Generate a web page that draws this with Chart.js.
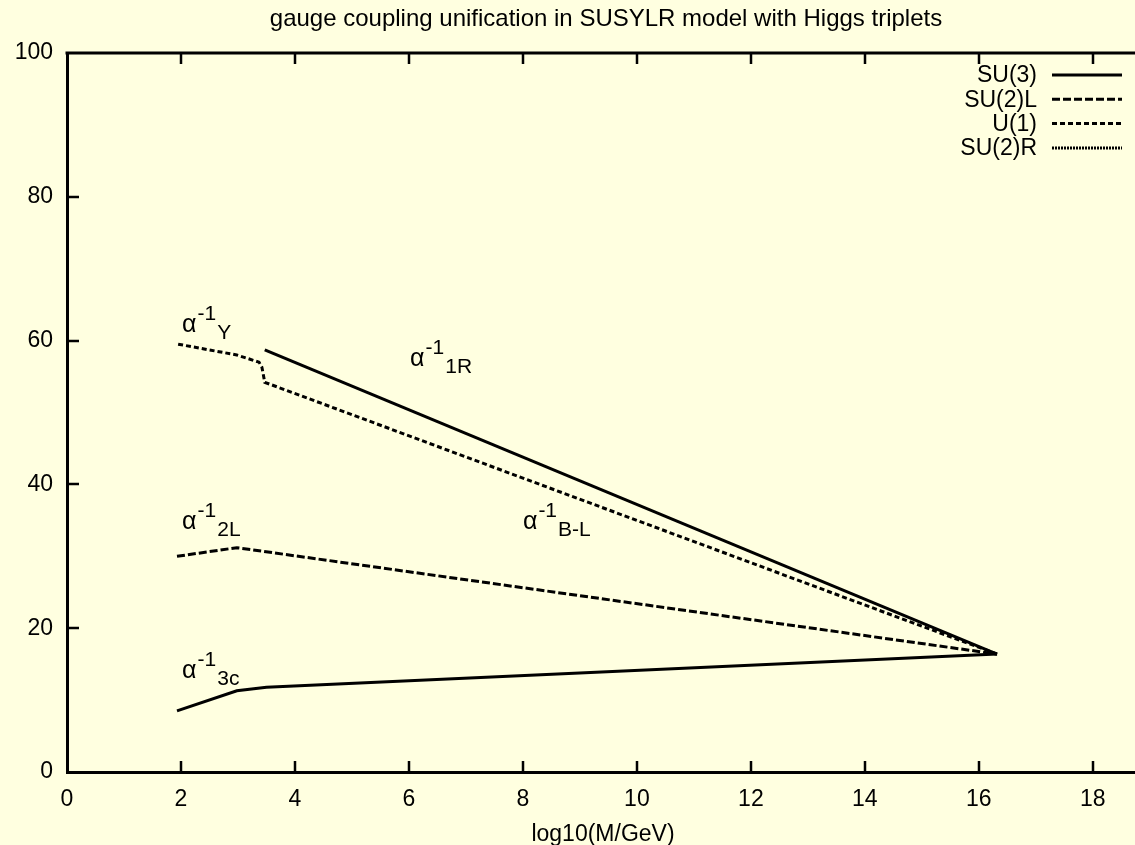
<!DOCTYPE html>
<html>
<head>
<meta charset="utf-8">
<script src="https://cdn.jsdelivr.net/npm/chart.js@4.4.0/dist/chart.umd.min.js"></script>
<style>
  html, body { margin: 0; padding: 0; background: #ffffe0; }
  canvas { display: block; }
</style>
</head>
<body>
<canvas id="myChart" width="1135" height="845"></canvas>
<script>
// datos
var su3X = [1.93, 2.98, 3.5, 16.32];
var su3Y = [8.5, 11.3, 11.8, 16.4];
var su2lX = [1.93, 2.98, 16.32];
var su2lY = [30.0, 31.2, 16.4];
var u1X = [1.95, 2.98, 3.37, 3.42, 3.47, 16.32];
var u1Y = [59.5, 58.0, 57.0, 56.3, 54.2, 16.4];
var su2rX = [3.47, 16.32];
var su2rY = [58.7, 16.4];

var xTicks = [0, 2, 4, 6, 8, 10, 12, 14, 16, 18];
var yTicks = [0, 20, 40, 60, 80, 100];

var seriesNames = ['SU(3)', 'SU(2)L', 'U(1)', 'SU(2)R'];
var seriesDash = [[], [8, 3], [5, 3], [2, 1]];

// etiquetas alfa^-1_sub en coordenadas de datos
var labelSubs = ['Y', '1R', '2L', 'B-L', '3c'];
var labelX = [2.02, 6.02, 2.02, 8.0, 2.02];
var labelY = [61.2, 56.4, 33.8, 33.8, 13.1];

var FONT = '"Liberation Sans", Arial, sans-serif';
var FS = 23;

function pts(xs, ys) {
    return xs.map(function (x, i) { return { x: x, y: ys[i] }; });
}

var decor = {
    id: 'decor',
    beforeDraw: function (chart) {
        var ctx = chart.ctx;
        ctx.save();
        ctx.fillStyle = '#ffffe0';
        ctx.fillRect(0, 0, chart.width, chart.height);
        ctx.restore();
    },
    afterDraw: function (chart) {
        var ctx = chart.ctx;
        var a = chart.chartArea;
        var sx = chart.scales.x, sy = chart.scales.y;
        ctx.save();
        ctx.strokeStyle = '#000';
        // borde superior
        ctx.lineWidth = 3;
        ctx.beginPath();
        ctx.moveTo(a.left - 1.5, a.top);
        ctx.lineTo(chart.width, a.top);
        ctx.stroke();
        // marcas hacia dentro
        ctx.lineWidth = 2.5;
        ctx.beginPath();
        xTicks.forEach(function (v) {
            if (v === 0) return;
            var px = Math.round(sx.getPixelForValue(v));
            ctx.moveTo(px, a.bottom);
            ctx.lineTo(px, a.bottom - 11);
            ctx.moveTo(px, a.top);
            ctx.lineTo(px, a.top + 11);
        });
        yTicks.forEach(function (v) {
            if (v === 0 || v === 100) return;
            var py = Math.round(sy.getPixelForValue(v));
            ctx.moveTo(a.left, py);
            ctx.lineTo(a.left + 12, py);
        });
        ctx.stroke();

        // titulo y nombre del eje
        ctx.fillStyle = '#000';
        ctx.font = '24px ' + FONT;
        ctx.textAlign = 'center';
        ctx.textBaseline = 'alphabetic';
        ctx.fillText('gauge coupling unification in SUSYLR model with Higgs triplets', 606, 26);
        ctx.font = FS + 'px ' + FONT;
        ctx.fillText('log10(M/GeV)', 603, 841);

        // leyenda
        ctx.textAlign = 'right';
        ctx.textBaseline = 'middle';
        seriesNames.forEach(function (name, i) {
            var yy = 75 + i * 24.3;
            ctx.fillText(name, 1037, yy + 1);
            ctx.setLineDash(seriesDash[i]);
            ctx.lineWidth = 3;
            ctx.beginPath();
            ctx.moveTo(1052, yy);
            ctx.lineTo(1122, yy);
            ctx.stroke();
        });
        ctx.setLineDash([]);

        // etiquetas alfa
        ctx.textAlign = 'left';
        ctx.textBaseline = 'alphabetic';
        labelSubs.forEach(function (sub, i) {
            var px = sx.getPixelForValue(labelX[i]);
            var py = sy.getPixelForValue(labelY[i]);
            ctx.font = '25px ' + FONT;
            ctx.fillText('\u03b1', px, py);
            var w = ctx.measureText('\u03b1').width;
            ctx.font = '21px ' + FONT;
            ctx.fillText('-1', px + w + 1, py - 12);
            var w2 = ctx.measureText('-1').width;
            ctx.fillText(sub, px + w + w2 + 2, py + 7);
        });
        ctx.restore();
    }
};

var lineOpts = function (label, xs, ys, dash) {
    return {
        label: label,
        data: pts(xs, ys),
        borderColor: '#000',
        borderWidth: 3,
        borderDash: dash,
        fill: false,
        tension: 0,
        pointRadius: 0,
        borderCapStyle: 'butt'
    };
};

var myChart = new Chart(document.getElementById('myChart'), {
    type: 'line',
    data: {
        datasets: [
            lineOpts(seriesNames[0], su3X, su3Y, seriesDash[0]),
            lineOpts(seriesNames[1], su2lX, su2lY, seriesDash[1]),
            lineOpts(seriesNames[2], u1X, u1Y, seriesDash[2]),
            lineOpts(seriesNames[3], su2rX, su2rY, [])
        ]
    },
    options: {
        responsive: false,
        devicePixelRatio: 1,
        animation: false,
        layout: { padding: { top: 53, right: 0, left: 0, bottom: 0 } },
        plugins: {
            legend: { display: false },
            title: { display: false },
            tooltip: { enabled: false }
        },
        scales: {
            x: {
                type: 'linear',
                min: 0,
                max: 18.74,
                afterFit: function (scale) { scale.height = 73; },
                afterBuildTicks: function (scale) {
                    scale.ticks = xTicks.map(function (v) { return { value: v }; });
                },
                ticks: { color: '#000', font: { size: FS, family: FONT }, padding: 14, maxRotation: 0 },
                grid: { display: false, drawTicks: false },
                border: { display: true, color: '#000', width: 3 }
            },
            y: {
                type: 'linear',
                min: 0,
                max: 100,
                afterFit: function (scale) { scale.width = 67; },
                afterBuildTicks: function (scale) {
                    scale.ticks = yTicks.map(function (v) { return { value: v }; });
                },
                ticks: { color: '#000', font: { size: FS, family: FONT }, padding: 14 },
                grid: { display: false, drawTicks: false },
                border: { display: true, color: '#000', width: 3 }
            }
        }
    },
    plugins: [decor]
});
</script>
</body>
</html>
